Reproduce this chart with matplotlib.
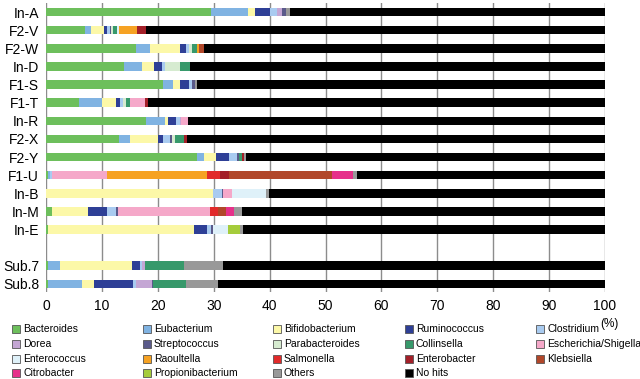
import matplotlib
matplotlib.use("Agg")
import matplotlib.pyplot as plt
from matplotlib.patches import Rectangle
import numpy as np

plt.rcParams['font.family'] = ['Liberation Sans', 'DejaVu Sans']

samples = ["In-A", "F2-V", "F2-W", "In-D", "F1-S", "F1-T", "In-R", "F2-X",
           "F2-Y", "F1-U", "In-B", "In-M", "In-E", "Sub.7", "Sub.8"]

taxa = ["Bacteroides", "Eubacterium", "Bifidobacterium", "Ruminococcus", "Clostridium",
        "Dorea", "Streptococcus", "Parabacteroides", "Collinsella", "Escherichia/Shigella",
        "Enterococcus", "Raoultella", "Salmonella", "Enterobacter", "Klebsiella",
        "Citrobacter", "Propionibacterium", "Others", "No hits"]

bacteroides     = [29.5, 7.0, 16.1, 13.9, 20.9, 5.9, 17.8, 13.0, 27.1, 0.3, 0.0, 1.0, 0.3, 0.4, 0.4]
eubacterium     = [6.6, 1.1, 2.5, 3.3, 1.8, 4.2, 3.4, 2.0, 1.1, 0.4, 0.0, 0.0, 0.0, 2.1, 6.1]
bifidobacterium = [1.3, 2.3, 5.4, 2.1, 1.3, 2.4, 0.6, 5.0, 2.2, 0.0, 29.9, 6.5, 26.1, 12.8, 2.1]
ruminococcus    = [2.7, 0.6, 1.0, 1.4, 1.6, 0.7, 1.4, 1.0, 2.4, 0.0, 0.0, 3.4, 2.4, 1.5, 6.9]
clostridium     = [1.2, 0.4, 0.5, 0.6, 0.6, 0.6, 0.7, 1.2, 1.3, 0.3, 1.5, 1.6, 0.7, 0.3, 0.6]
dorea           = [0.9, 0.0, 0.0, 0.0, 0.0, 0.0, 0.3, 0.0, 0.0, 0.0, 0.0, 0.0, 0.0, 0.6, 2.8]
streptococcus   = [0.8, 0.3, 0.0, 0.0, 0.5, 0.0, 0.0, 0.4, 0.4, 0.0, 0.3, 0.3, 0.3, 0.0, 0.3]
parabacteroides = [0.0, 0.3, 0.7, 2.7, 0.0, 0.5, 0.0, 0.5, 0.0, 0.0, 0.0, 0.0, 0.0, 0.0, 0.0]
collinsella     = [0.0, 0.7, 0.9, 1.8, 0.0, 0.8, 0.0, 1.6, 0.5, 0.0, 0.0, 0.0, 0.0, 6.9, 5.8]
escherichia     = [0.0, 0.0, 0.0, 0.0, 0.0, 2.6, 1.2, 0.0, 0.0, 10.0, 1.5, 16.6, 0.0, 0.0, 0.0]
enterococcus    = [0.0, 0.4, 0.0, 0.0, 0.0, 0.0, 0.0, 0.0, 0.0, 0.0, 6.1, 0.0, 2.8, 0.0, 0.0]
raoultella      = [0.0, 3.1, 0.3, 0.0, 0.0, 0.0, 0.0, 0.0, 0.0, 17.8, 0.0, 0.0, 0.0, 0.0, 0.0]
salmonella      = [0.0, 0.0, 0.0, 0.0, 0.0, 0.0, 0.0, 0.0, 0.0, 2.3, 0.0, 1.3, 0.0, 0.0, 0.0]
enterobacter    = [0.0, 1.6, 0.0, 0.0, 0.0, 0.6, 0.0, 0.5, 0.4, 1.7, 0.0, 0.0, 0.0, 0.0, 0.0]
klebsiella      = [0.0, 0.0, 0.8, 0.0, 0.0, 0.0, 0.0, 0.0, 0.0, 18.4, 0.0, 1.5, 0.0, 0.0, 0.0]
citrobacter     = [0.0, 0.0, 0.0, 0.0, 0.0, 0.0, 0.0, 0.0, 0.0, 3.7, 0.0, 1.5, 0.0, 0.0, 0.0]
propionibacterium = [0.0, 0.0, 0.0, 0.0, 0.0, 0.0, 0.0, 0.0, 0.0, 0.0, 0.0, 0.0, 2.1, 0.0, 0.0]
others          = [0.7, 0.0, 0.0, 0.0, 0.4, 0.0, 0.0, 0.0, 0.4, 0.7, 0.6, 1.3, 0.6, 7.0, 5.8]

series = [bacteroides, eubacterium, bifidobacterium, ruminococcus, clostridium, dorea,
          streptococcus, parabacteroides, collinsella, escherichia, enterococcus,
          raoultella, salmonella, enterobacter, klebsiella, citrobacter,
          propionibacterium, others]
known = np.array(series).sum(axis=0)
no_hits = list(100 - known)
series.append(no_hits)

colors = ["#6dbf5c", "#80b3e2", "#fcf8a8", "#2e3f96", "#a9cbf0", "#c4a6d4",
          "#5a5a8a", "#d6ebd0", "#37996b", "#f5a8c9", "#dff1f9", "#f6a223",
          "#e12a2a", "#a31f28", "#b1472a", "#e6308a", "#a5cc3b", "#999999", "#000000"]

# layout: gap of one slot before the Sub rows
ypos = list(range(13)) + [14, 15]

fig = plt.figure(figsize=(6.4, 3.79), dpi=100)
ax = fig.add_axes([46/640, 1-292/379, (605-46)/640, (292-3)/379])

left = np.zeros(len(samples))
for vals, col in zip(series, colors):
    v = np.array(vals)
    ax.barh(ypos, v, left=left, height=0.47, color=col, linewidth=0, zorder=3)
    left += v

ax.set_xlim(0, 100)
ax.set_ylim(15.45, -0.5)
ax.set_xticks(np.arange(0, 101, 10))
ax.set_yticks(ypos)
ax.set_yticklabels(samples, fontsize=10)
ax.tick_params(axis='x', labelsize=10, length=0, pad=5)
ax.tick_params(axis='y', length=0, pad=5)
for s in ax.spines.values():
    s.set_visible(False)
ax.grid(axis='x', color='#8c8c8c', linewidth=1.0, zorder=0)
ax.set_axisbelow(True)

fig.text(609/640, 1-324/379, "(%)", fontsize=8.5, ha='center', va='center')

# legend, filled row-wise, 5 columns
col_x = [12, 143, 273, 405, 536]
row_y = [329, 344, 359, 373]
sq = 8
for i, (name, col) in enumerate(zip(taxa, colors)):
    r, c = divmod(i, 5)
    x = col_x[c]
    y = row_y[r]
    fig.patches.append(Rectangle((x/640, 1-(y+sq/2)/379), sq/640, sq/379,
                                 transform=fig.transFigure, facecolor=col,
                                 edgecolor='#555555', linewidth=0.6))
    fig.text((x+11)/640, 1-y/379, name, fontsize=7.5, ha='left', va='center')

fig.savefig("out.png", dpi=100)
